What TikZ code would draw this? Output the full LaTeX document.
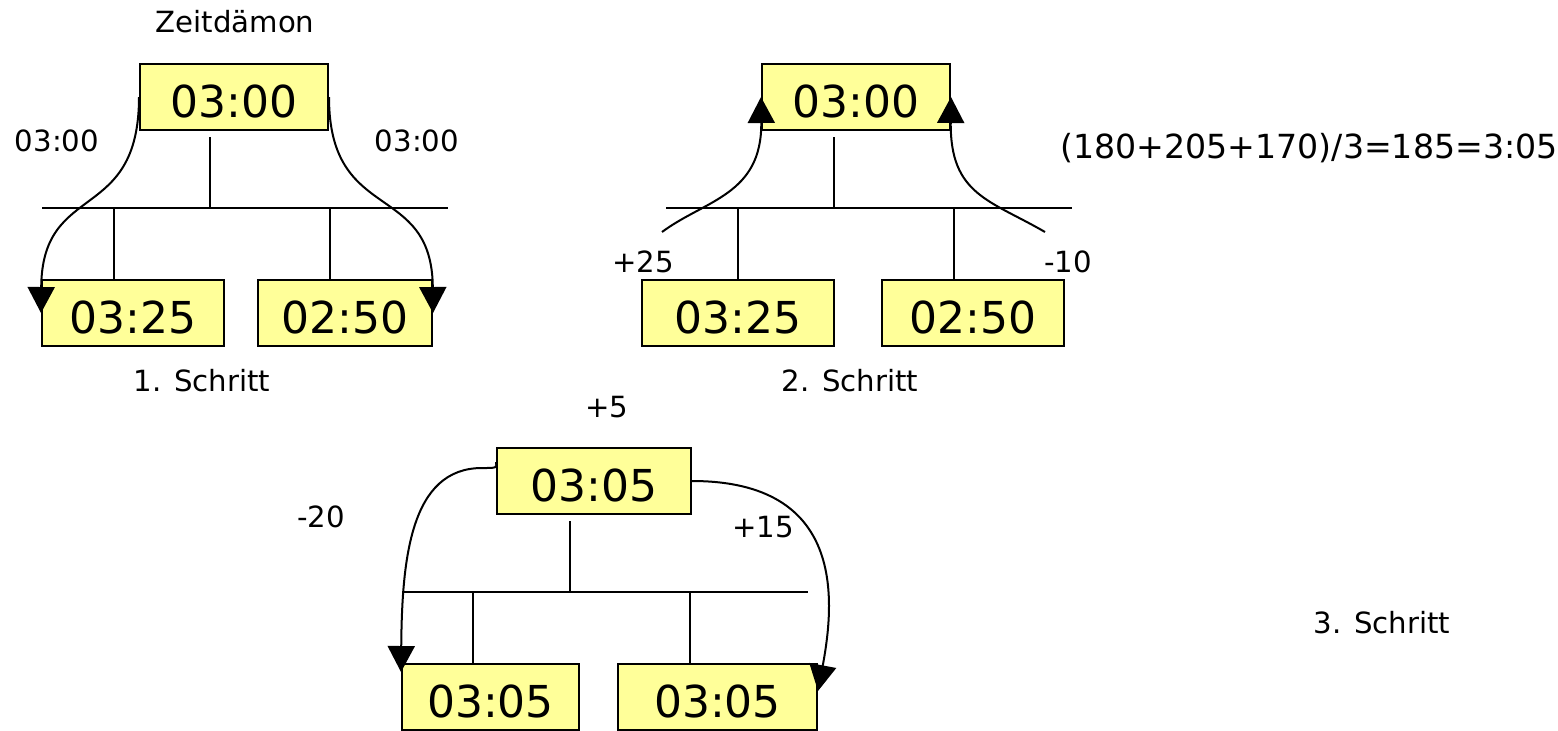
\documentclass[tikz,border=0pt]{standalone}
\usepackage{fontspec}
\setmainfont{DejaVu Sans}
\usetikzlibrary{arrows.meta}
\definecolor{zeitgelb}{RGB}{255,255,153}
\tikzset{
  uhr/.style={draw, fill=zeitgelb, line width=1pt, inner sep=0pt, minimum height=33pt,
    text height=20.5pt, font=\fontsize{22}{22}\selectfont},
  txt/.style={inner sep=0pt, font=\fontsize{14.6}{16}\selectfont},
  linie/.style={line width=1pt},
  pfeil/.style={line width=1pt, -{Triangle[length=13pt,width=13.5pt]}}
}

\begin{document}
\begin{tikzpicture}[x=0.5pt,y=-0.5pt]
	\useasboundingbox (0,0) rectangle (1558,730);
	
	% 1. Schritt
	\node[txt] (titel) at (235,22) {Zeitdämon};
	\node[uhr, minimum width=94pt] (a0) at (234,97) {03:00};
	\node[uhr, minimum width=91pt] (a1) at (133,313) {03:25};
	\node[uhr, minimum width=87pt] (a2) at (345,313) {02:50};
	\node[txt] (a-wl) at (57,141) {03:00};
	\node[txt] (a-wr) at (417,141) {03:00};
	\node[txt] (a-nr) at (202,381) {1. Schritt};
	
	\coordinate (a-s) at (42,208);
	\coordinate (a-e) at (448,208);
	\coordinate (a-m) at (210,208);
	\coordinate (a-l) at (114,208);
	\coordinate (a-r) at (330,208);
	\draw[linie] (a-s) -- (a-e);
	\draw[linie] ([yshift=-3pt]a0.south -| a-m) -- (a-m);
	\draw[linie] (a-l) -- (a-l |- a1.north);
	\draw[linie] (a-r) -- (a-r |- a2.north);
	
	\draw[pfeil] (a0.west) .. controls (139,225) and (42,180) .. (a1.west);
	\draw[pfeil] (a0.east) .. controls (329,225) and (432,180) .. (a2.east);
	
	% 2. Schritt
	\node[uhr, minimum width=94pt] (b0) at (856,97) {03:00};
	\node[uhr, minimum width=96pt] (b1) at (738,313) {03:25};
	\node[uhr, minimum width=91pt] (b2) at (973,313) {02:50};
	\node[txt] (b-wl) at (643,262) {+25};
	\node[txt] (b-wr) at (1068,262) {-10};
	\node[txt] (b-nr) at (850,381) {2. Schritt};
	\node[txt, font=\fontsize{16.6}{18}\selectfont] (formel) at (1309,148) {(180+205+170)/3=185=3:05};
	
	\coordinate (b-s) at (666,208);
	\coordinate (b-e) at (1072,208);
	\coordinate (b-m) at (834,208);
	\coordinate (b-l) at (738,208);
	\coordinate (b-r) at (954,208);
	\coordinate (b-al) at (662,232);
	\coordinate (b-ar) at (1045,232);
	\draw[linie] (b-s) -- (b-e);
	\draw[linie] ([yshift=-3pt]b0.south -| b-m) -- (b-m);
	\draw[linie] (b-l) -- (b-l |- b1.north);
	\draw[linie] (b-r) -- (b-r |- b2.north);
	
	\draw[pfeil] (b-al) .. controls (705,200) and (762,195) .. (b0.west);
	\draw[pfeil] (b-ar) .. controls (990,200) and (950,195) .. (b0.east);
	
	% 3. Schritt
	\node[txt] (c-plus) at (607,407) {+5};
	\node[uhr, minimum width=97pt] (c0) at (594,481) {03:05};
	\node[uhr, minimum width=88.5pt] (c1) at (490.5,697) {03:05};
	\node[uhr, minimum width=99.5pt] (c2) at (717.5,697) {03:05};
	\node[txt] (c-wl) at (321,517) {-20};
	\node[txt] (c-wr) at (763,527) {+15};
	\node[txt] (c-nr) at (1382,623) {3. Schritt};
	
	\coordinate (c-s) at (402,592);
	\coordinate (c-e) at (808,592);
	\coordinate (c-m) at (570,592);
	\coordinate (c-l) at (473,592);
	\coordinate (c-r) at (690,592);
	\draw[linie] (c-s) -- (c-e);
	\draw[linie] ([yshift=-3pt]c0.south -| c-m) -- (c-m);
	\draw[linie] (c-l) -- (c-l |- c1.north);
	\draw[linie] (c-r) -- (c-r |- c2.north);
	
	\draw[pfeil] ([yshift=9.5pt]c0.west) .. controls (497,468) .. (482,468)
		.. controls (410,468) and (402,560) .. ([yshift=-4.5pt]c1.north west);
	\draw[pfeil] (c0.east) .. controls (845,481) and (835,600) .. ([yshift=-14pt]c2.north east);
\end{tikzpicture}
\end{document}
